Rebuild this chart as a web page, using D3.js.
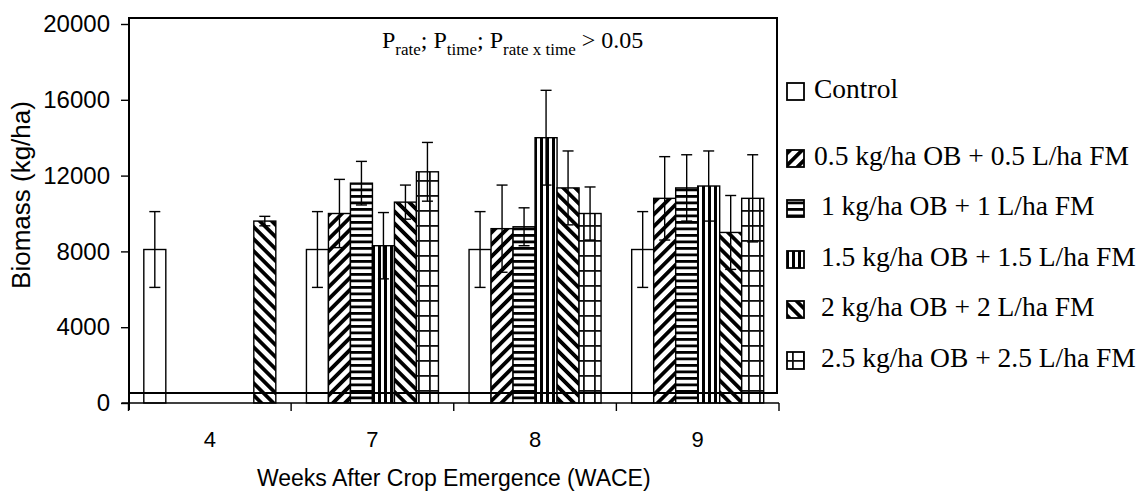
<!DOCTYPE html>
<html>
<head>
<meta charset="utf-8">
<script src="https://cdn.jsdelivr.net/npm/d3@7/dist/d3.min.js"></script>
<style>
  html, body { margin: 0; padding: 0; background: #fff; }
  svg { display: block; }
  text { white-space: pre; }
</style>
</head>
<body>
<svg id="chart" width="1139" height="491"></svg>
<script>
// ---------- data ----------
const weeks = ["4", "7", "8", "9"];
const seriesNames = [
  "Control",
  "0.5 kg/ha OB + 0.5 L/ha FM",
  " 1 kg/ha OB + 1 L/ha FM",
  " 1.5 kg/ha OB + 1.5 L/ha FM",
  " 2 kg/ha OB + 2 L/ha FM",
  " 2.5 kg/ha OB + 2.5 L/ha FM"
];
const controlVals = [8100, 8100, 8100, 8100];
const controlErr  = [2000, 2000, 2000, 2000];
const r05Vals = [null, 10000, 9200, 10800];
const r05Err  = [null, 1800, 2300, 2200];
const r1Vals  = [null, 11600, 9300, 11350];
const r1Err   = [null, 1150, 1000, 1750];
const r15Vals = [null, 8300, 14000, 11450];
const r15Err  = [null, 1750, 2500, 1850];
const r2Vals  = [9600, 10600, 11350, 9000];
const r2Err   = [250, 900, 1950, 1950];
const r25Vals = [null, 12200, 10000, 10800];
const r25Err  = [null, 1550, 1400, 2300];
const yTicks = [0, 4000, 8000, 12000, 16000, 20000];
const yTitle = "Biomass (kg/ha)";
const xTitle = "Weeks After Crop Emergence (WACE)";

const seriesVals = [controlVals, r05Vals, r1Vals, r15Vals, r2Vals, r25Vals];
const seriesErr  = [controlErr, r05Err, r1Err, r15Err, r2Err, r25Err];

// ---------- layout ----------
const svg = d3.select("#chart");
const plotL = 129, plotR = 777, frameTop = 18, frameBottom = 393;
const axisL = 128.5, axisR = 779;
const y = d3.scaleLinear().domain([0, 20000]).range([403, 24]);
const x0 = d3.scaleBand().domain(weeks).range([axisL, axisR]).paddingInner(0).paddingOuter(0);
const barW = 22;
const slotOffset = (x0.bandwidth() - barW * seriesNames.length) / 2;
const x1 = d3.scaleBand().domain(d3.range(seriesNames.length)).range([slotOffset, slotOffset + barW * seriesNames.length]);

// ---------- patterns ----------
const defs = svg.append("defs");
function stripes(id, period, thick, angle) {
  const p = defs.append("pattern").attr("id", id).attr("patternUnits", "userSpaceOnUse")
    .attr("width", period).attr("height", period)
    .attr("patternTransform", `rotate(${angle})`);
  p.append("rect").attr("width", period).attr("height", period).attr("fill", "#fff");
  p.append("rect").attr("x", 0).attr("y", 0).attr("width", thick).attr("height", period).attr("fill", "#000");
}
stripes("p05", 8.5, 3.8, 45);
stripes("p2", 8.5, 3.8, -45);
stripes("p15", 6, 3, 0);
stripes("p1", 6.5, 2.8, 90);
(function grid() {
  const p = defs.append("pattern").attr("id", "p25").attr("patternUnits", "userSpaceOnUse")
    .attr("width", 11).attr("height", 15);
  p.append("rect").attr("width", 11).attr("height", 15).attr("fill", "#fff");
  p.append("rect").attr("x", 0).attr("y", 0).attr("width", 1.8).attr("height", 15).attr("fill", "#111");
  p.append("rect").attr("x", 0).attr("y", 0).attr("width", 11).attr("height", 1.8).attr("fill", "#111");
})();
const fills = ["#fff", "url(#p05)", "url(#p1)", "url(#p15)", "url(#p2)", "url(#p25)"];

// ---------- bars ----------
const bars = [];
seriesVals.forEach((vals, si) => {
  vals.forEach((v, wi) => {
    if (v == null) return;
    // Week 4: the lone treatment bar sits in the last slot of the cluster
    const slot = (wi === 0 && si !== 0) ? seriesNames.length - 1 : si;
    bars.push({ si, week: weeks[wi], v, e: seriesErr[si][wi], slot });
  });
});

const gBars = svg.append("g");
gBars.selectAll("rect").data(bars).join("rect")
  .attr("x", d => x0(d.week) + x1(d.slot))
  .attr("y", d => y(d.v))
  .attr("width", barW)
  .attr("height", d => y(0) - y(d.v))
  .attr("fill", d => fills[d.si])
  .attr("stroke", "#000").attr("stroke-width", 1.4);

// ---------- frame ----------
svg.append("rect").attr("x", plotL).attr("y", frameTop)
  .attr("width", plotR - plotL).attr("height", frameBottom - frameTop)
  .attr("fill", "none").attr("stroke", "#000").attr("stroke-width", 2);

// ---------- error bars ----------
const gErr = svg.append("g").attr("stroke", "#000").attr("stroke-width", 1.4);
bars.forEach(d => {
  const cx = x0(d.week) + x1(d.slot) + barW / 2;
  gErr.append("line").attr("x1", cx).attr("x2", cx).attr("y1", y(d.v + d.e)).attr("y2", y(d.v - d.e));
  [d.v + d.e, d.v - d.e].forEach(t => {
    gErr.append("line").attr("x1", cx - 5.5).attr("x2", cx + 5.5).attr("y1", y(t)).attr("y2", y(t));
  });
});

// ---------- axes ----------
const yAxis = d3.axisLeft(y).tickValues(yTicks).tickSize(8).tickFormat(d3.format("d"));
const gy = svg.append("g").attr("transform", `translate(${plotL},0)`).call(yAxis);
gy.select(".domain").attr("d", `M0,${y(20000)}V410`).attr("stroke-width", 2);
gy.selectAll(".tick line").attr("stroke-width", 1.4);
gy.selectAll(".tick text").attr("font-family", "Liberation Sans, Arial, sans-serif")
  .attr("font-size", 24).attr("fill", "#000").attr("x", -19);

const xAxis = d3.axisBottom(x0).tickSize(0).tickPadding(0);
const gx = svg.append("g").attr("transform", `translate(0,${y(0)})`).call(xAxis);
gx.select(".domain").attr("d", `M${axisL - 7},0H${axisR}`).attr("stroke-width", 1.6);
gx.selectAll(".tick text").attr("font-family", "Liberation Sans, Arial, sans-serif")
  .attr("font-size", 22).attr("fill", "#000").attr("dy", 0).attr("y", 44);
// group separator ticks
const bounds = weeks.map(w => x0(w)).concat([axisR]);
gx.selectAll(".sep").data(bounds).join("line").attr("class", "sep")
  .attr("x1", d => d).attr("x2", d => d).attr("y1", 0).attr("y2", 8)
  .attr("stroke", "#000").attr("stroke-width", 1.4);

// titles
svg.append("text").attr("x", (axisL + axisR) / 2).attr("y", 486).attr("text-anchor", "middle")
  .attr("font-family", "Liberation Sans, Arial, sans-serif").attr("font-size", 23).text(xTitle);
svg.append("text").attr("transform", "translate(30,195) rotate(-90)").attr("text-anchor", "middle")
  .attr("font-family", "Liberation Sans, Arial, sans-serif").attr("font-size", 26).text(yTitle);

// annotation
const ann = svg.append("text").attr("x", 382).attr("y", 48)
  .attr("font-family", "Liberation Serif, 'Times New Roman', serif").attr("font-size", 24);
[["P", 0], ["rate", 1], ["; P", 0], ["time", 1], ["; P", 0], ["rate x time", 1], [" > 0.05", 0]].forEach(([t, sub], i, arr) => {
  const prevSub = i > 0 ? arr[i - 1][1] : 0;
  ann.append("tspan").attr("font-size", sub ? 17 : 24)
    .attr("dy", sub && !prevSub ? 7 : (!sub && prevSub ? -7 : 0)).text(t);
});

// ---------- legend ----------
const legY = [98, 165, 215, 266, 316, 367];
const leg = svg.append("g");
seriesNames.forEach((name, i) => {
  leg.append("rect").attr("x", 787).attr("y", legY[i] - 15).attr("width", 17).attr("height", 17)
    .attr("fill", fills[i]).attr("stroke", "#000").attr("stroke-width", 1.8);
  leg.append("text").attr("x", 814).attr("y", legY[i])
    .attr("font-family", "Liberation Serif, 'Times New Roman', serif").attr("font-size", 27.5)
    .text(name);
});
</script>
</body>
</html>
